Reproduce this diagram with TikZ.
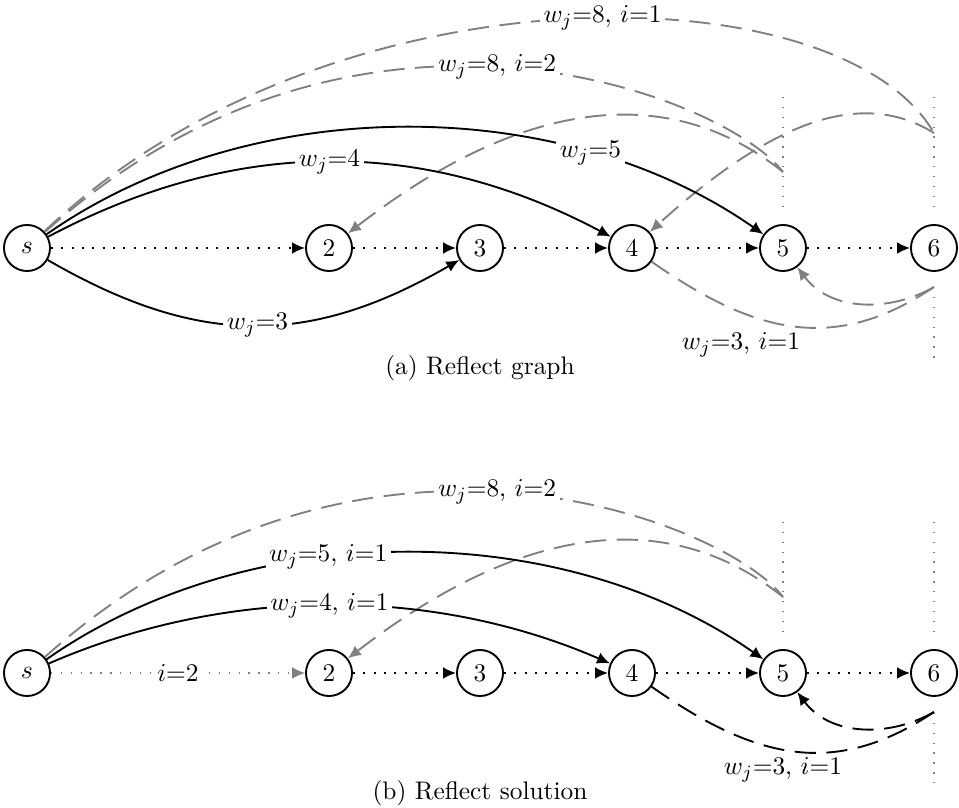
\documentclass[tikz,border=0pt]{standalone}
\usetikzlibrary{arrows.meta}
\begin{document}
\begin{tikzpicture}[x=0.4255pt,y=-0.4255pt,
  every node/.style={font=\fontsize{10.8pt}{13pt}\selectfont},
  vtx/.style={circle, draw, thick, minimum size=19.6pt, inner sep=0pt},
  tipb/.style={-{Latex[length=5.5pt,width=5pt]}},
  dotarrow/.style={thick, dash pattern=on 0.8pt off 3.6pt, tipb},
  graydot/.style={gray, line width=0.6pt, dash pattern=on 0.6pt off 3.6pt, tipb},
  graydash/.style={gray, thick, dash pattern=on 9pt off 4.5pt},
  blackdash/.style={black, thick, dash pattern=on 9pt off 4.5pt},
  solidarc/.style={thick, tipb},
  vline/.style={gray, line width=0.5pt, dash pattern=on 0.6pt off 3.6pt},
  lbl/.style={fill=white, text=black, inner sep=1.5pt},
  plainlbl/.style={inner sep=1pt}]
\useasboundingbox (0,0) rectangle (959,808);

% ---------------- (a) ----------------
\node[vtx] (s) at (27,248) {$s$};
\node[vtx] (a2) at (329,248) {2};
\node[vtx] (a3) at (480,248) {3};
\node[vtx] (a4) at (632,248) {4};
\node[vtx] (a5) at (783,248) {5};
\node[vtx] (a6) at (934,248) {6};
\coordinate (P1) at (934,133);
\coordinate (P2) at (783,172);
\coordinate (Q) at (934,287);
\coordinate (va1) at (783,97);
\coordinate (va2) at (783,210);
\coordinate (vb1) at (934,97);
\coordinate (vb2) at (934,210);
\coordinate (vc1) at (934,297);
\coordinate (vc2) at (934,362);

\draw[vline] (va1) -- (va2);
\draw[vline] (vb1) -- (vb2);
\draw[vline] (vc1) -- (vc2);

\draw[dotarrow] (s) -- (a2);
\draw[dotarrow] (a2) -- (a3);
\draw[dotarrow] (a3) -- (a4);
\draw[dotarrow] (a4) -- (a5);
\draw[dotarrow] (a5) -- (a6);

\draw[graydash] (s) .. controls (330,-40) and (840,-30) .. (P1)
  node[lbl,pos=0.54] {$w_j$=8, $i$=1};
\draw[graydash] (s) .. controls (364,-53) and (730,100) .. (P2)
  node[lbl,pos=0.48] {$w_j$=8, $i$=2};
\draw[graydash,tipb] (P2) .. controls (685,93) and (544,82) .. (a2);
\draw[graydash,tipb] (P1) .. controls (866,91) and (780,114) .. (a4);
\draw[graydash] (a4) .. controls (755,334) and (834,354) .. (Q);
\draw[graydash,tipb] (Q) .. controls (890.5,312) and (831,312) .. (a5);

\draw[solidarc] (s) .. controls (198,347) and (309,347) .. (a3)
  node[lbl,pos=0.51] {$w_j$=3};
\draw[solidarc] (s) .. controls (236,137) and (423,137) .. (a4)
  node[lbl,pos=0.5] {$w_j$=4};
\draw[solidarc] (s) .. controls (250,92) and (560,92) .. (a5)
  node[lbl,pos=0.745] {$w_j$=5};

\node[plainlbl] (la) at (741,345) {$w_j$=3, $i$=1};
\node (capa) at (480,368) {(a) Reflect graph};

% ---------------- (b) ----------------
\node[vtx] (t) at (27,673) {$s$};
\node[vtx] (b2) at (329,673) {2};
\node[vtx] (b3) at (480,673) {3};
\node[vtx] (b4) at (632,673) {4};
\node[vtx] (b5) at (783,673) {5};
\node[vtx] (b6) at (934,673) {6};
\coordinate (R2) at (783,597);
\coordinate (Qb) at (934,712);
\coordinate (wa1) at (783,522);
\coordinate (wa2) at (783,637);
\coordinate (wb1) at (934,522);
\coordinate (wb2) at (934,637);
\coordinate (wc1) at (934,713);
\coordinate (wc2) at (934,787);

\draw[vline] (wa1) -- (wa2);
\draw[vline] (wb1) -- (wb2);
\draw[vline] (wc1) -- (wc2);

\draw[graydot] (t) -- (b2) node[lbl,pos=0.5] {$i$=2};
\draw[dotarrow] (b2) -- (b3);
\draw[dotarrow] (b3) -- (b4);
\draw[dotarrow] (b4) -- (b5);
\draw[dotarrow] (b5) -- (b6);

\draw[graydash] (t) .. controls (364,372) and (730,525) .. (R2)
  node[lbl,pos=0.48] {$w_j$=8, $i$=2};
\draw[graydash,tipb] (R2) .. controls (685,518) and (544,507) .. (b2);

\draw[solidarc] (t) .. controls (250,517) and (560,517) .. (b5)
  node[lbl,pos=0.4] {$w_j$=5, $i$=1};
\draw[solidarc] (t) .. controls (227,586) and (432,586) .. (b4)
  node[lbl,pos=0.5] {$w_j$=4, $i$=1};

\draw[blackdash] (b4) .. controls (755,759) and (834,779) .. (Qb);
\draw[blackdash,tipb] (Qb) .. controls (890.5,737) and (831,737) .. (b5);

\node[plainlbl] (lb) at (783,770) {$w_j$=3, $i$=1};
\node (capb) at (480,793) {(b) Reflect solution};
\end{tikzpicture}
\end{document}
